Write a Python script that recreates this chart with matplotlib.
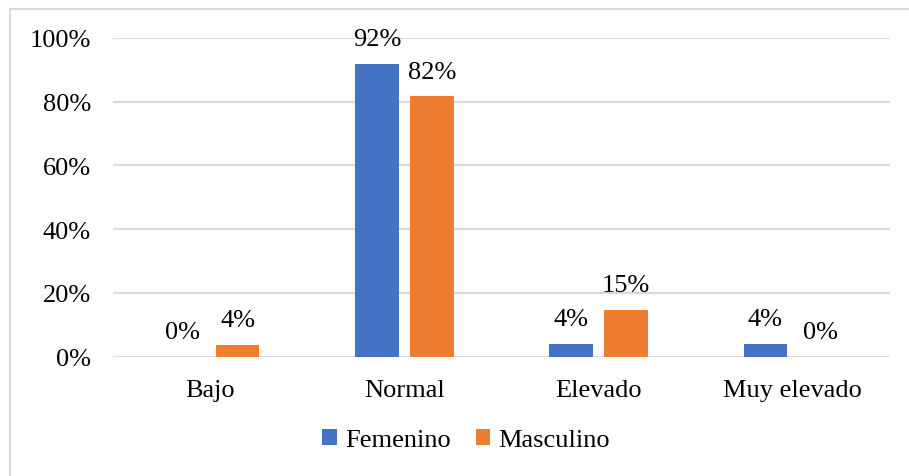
import matplotlib
matplotlib.use("Agg")
import matplotlib.pyplot as plt
from matplotlib.patches import Rectangle
import numpy as np

# --- data ---
categories = ["Bajo", "Normal", "Elevado", "Muy elevado"]
femenino = [0.0, 91.8, 4.0, 4.0]
masculino = [3.7, 81.7, 14.6, 0.0]
fem_labels = ["0%", "92%", "4%", "4%"]
masc_labels = ["4%", "82%", "15%", "0%"]
yticks = [0, 20, 40, 60, 80, 100]
ytick_labels = ["0%", "20%", "40%", "60%", "80%", "100%"]

BLUE = "#4472C4"
ORANGE = "#ED7D31"
GRID = "#D9D9D9"
FS = 19

plt.rcParams["font.family"] = ["Liberation Serif", "DejaVu Serif"]

fig = plt.figure(figsize=(9.09, 4.77), dpi=100)
# outer chart border (only top/left visible in reference)
fig.patches.append(Rectangle((10 / 909, -0.1), 1.2, 1 - 10 / 477 + 0.1,
                             transform=fig.transFigure, fill=False,
                             edgecolor=GRID, linewidth=1.5))

ax = fig.add_axes([113 / 909, 1 - 357.5 / 477, (890 - 113) / 909, (357.5 - 39) / 477])

x = np.arange(len(categories))
w = 0.224
off = 0.141
b1 = ax.bar(x - off, femenino, w, color=BLUE, label="Femenino", zorder=3)
b2 = ax.bar(x + off, masculino, w, color=ORANGE, label="Masculino", zorder=3)

for bars, labels in ((b1, fem_labels), (b2, masc_labels)):
    for rect, lab in zip(bars, labels):
        ax.annotate(lab, (rect.get_x() + rect.get_width() / 2, rect.get_height()),
                    xytext=(0, 13.5), textcoords="offset points",
                    ha="center", va="baseline", fontsize=FS, zorder=4)

ax.set_xlim(-0.5, len(categories) - 0.5)
ax.set_ylim(0, 100)
ax.set_yticks(yticks)
ax.set_yticklabels(ytick_labels, fontsize=FS)
ax.set_xticks(x)
ax.set_xticklabels(categories, fontsize=FS)
ax.tick_params(axis="both", length=0)
ax.tick_params(axis="y", pad=16)
ax.tick_params(axis="x", pad=16)
ax.yaxis.grid(True, color=GRID, linewidth=1.5, zorder=0)
ax.set_axisbelow(True)
for s in ax.spines.values():
    s.set_visible(False)

fig.legend(handles=[b1, b2], labels=["Femenino", "Masculino"],
           loc="center", bbox_to_anchor=(466 / 909, 1 - 441 / 477),
           ncol=2, frameon=False, fontsize=FS, handlelength=0.55,
           handleheight=0.55, handletextpad=0.3, columnspacing=0.95)

fig.savefig("out.png", dpi=100)
